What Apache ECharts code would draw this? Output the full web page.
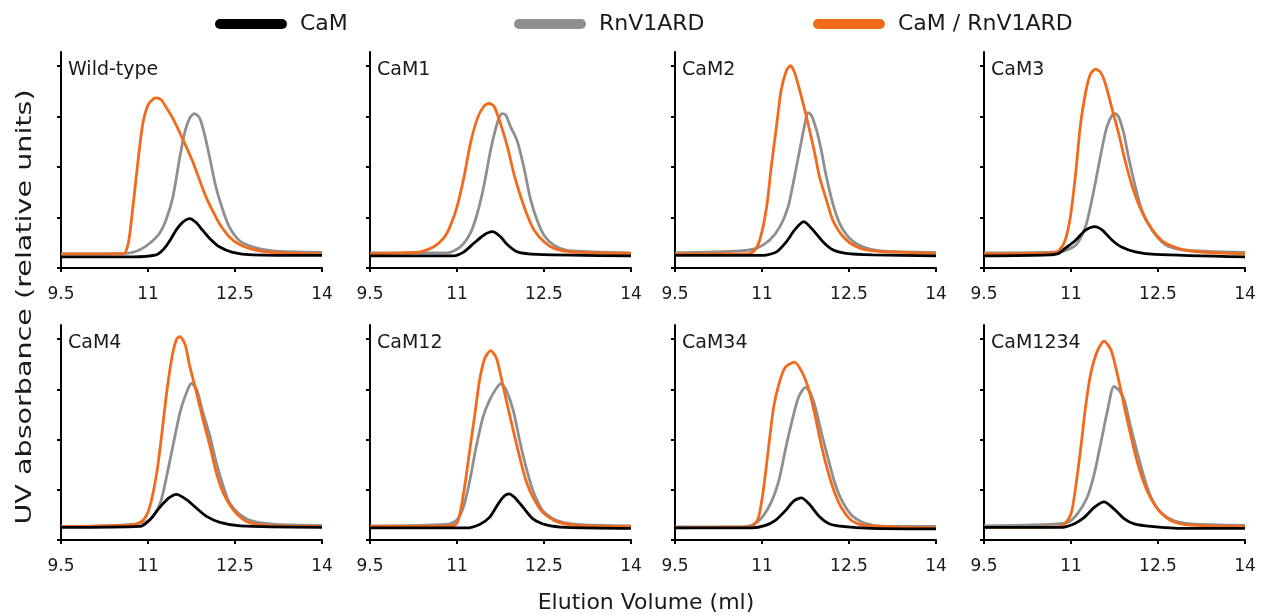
<!DOCTYPE html>
<html>
<head>
<meta charset="utf-8">
<script src="https://cdn.jsdelivr.net/npm/echarts@6/dist/echarts.min.js"></script>
<style>
html, body { margin: 0; padding: 0; background: #fff; }
#main { width: 1262px; height: 615px; }
</style>
</head>
<body>
<div id="main"></div>
<script>
// panel names and legend names
var panelNames = ['Wild-type', 'CaM1', 'CaM2', 'CaM3', 'CaM4', 'CaM12', 'CaM34', 'CaM1234'];
var seriesNames = ['CaM', 'RnV1ARD', 'CaM / RnV1ARD'];
var xTicks = [9.5, 11, 12.5, 14];
var yTicks = [0, 1, 2, 3, 4];

// [elution volume (ml), absorbance]
var wt_cam = [[9.5,.22],[10.74,.22],[11.14,.26],[11.26,.36],[11.37,.53],[11.49,.76],[11.60,.91],[11.72,.98],[11.83,.90],[11.94,.75],[12.06,.59],[12.23,.42],[12.46,.31],[12.80,.26],[14.0,.25]];
var wt_rnv = [[9.5,.28],[10.63,.29],[10.86,.36],[11.03,.49],[11.20,.69],[11.31,.95],[11.43,1.41],[11.54,2.14],[11.63,2.67],[11.72,2.97],[11.80,3.06],[11.89,2.97],[11.97,2.67],[12.06,2.21],[12.17,1.61],[12.29,1.15],[12.40,.82],[12.57,.55],[12.80,.42],[13.15,.34],[14.0,.31]];
var wt_mix = [[9.5,.28],[10.57,.28],[10.66,.49],[10.74,1.21],[10.83,2.14],[10.91,2.86],[11.0,3.23],[11.09,3.35],[11.14,3.37],[11.23,3.33],[11.31,3.19],[11.43,2.96],[11.54,2.70],[11.66,2.40],[11.77,2.11],[11.89,1.74],[12.0,1.41],[12.12,1.12],[12.23,.88],[12.40,.62],[12.57,.47],[12.80,.37],[13.15,.31],[14.0,.28]];

var cam1_cam = [[9.5,.24],[10.94,.24],[11.12,.32],[11.29,.49],[11.46,.65],[11.61,.72],[11.75,.62],[11.87,.46],[12.04,.32],[12.38,.27],[14.0,.24]];
var cam1_rnv = [[9.5,.30],[10.83,.30],[11.06,.42],[11.23,.69],[11.35,1.08],[11.46,1.61],[11.58,2.34],[11.66,2.73],[11.72,2.96],[11.78,3.06],[11.84,3.03],[11.92,2.81],[12.04,2.51],[12.15,2.01],[12.27,1.35],[12.39,.92],[12.50,.65],[12.67,.45],[12.90,.35],[14.0,.30]];
var cam1_mix = [[9.5,.28],[10.08,.30],[10.37,.32],[10.60,.42],[10.77,.59],[10.88,.82],[11.0,1.21],[11.12,1.80],[11.23,2.46],[11.35,2.96],[11.46,3.20],[11.55,3.26],[11.64,3.20],[11.75,2.86],[11.87,2.40],[11.98,1.87],[12.10,1.41],[12.21,1.05],[12.33,.75],[12.50,.52],[12.67,.39],[12.96,.32],[14.0,.29]];

var cam2_cam = [[9.5,.25],[11.02,.25],[11.25,.32],[11.42,.52],[11.56,.75],[11.72,.92],[11.88,.75],[12.05,.52],[12.22,.36],[12.45,.29],[12.91,.26],[14.0,.24]];
var cam2_rnv = [[9.5,.30],[10.62,.34],[10.90,.39],[11.13,.55],[11.31,.82],[11.45,1.21],[11.56,1.81],[11.65,2.34],[11.74,2.86],[11.79,3.08],[11.85,3.03],[11.94,2.73],[12.02,2.34],[12.11,1.81],[12.22,1.28],[12.34,.88],[12.51,.59],[12.74,.42],[13.03,.34],[14.0,.31]];
var cam2_mix = [[9.5,.28],[10.73,.28],[10.85,.32],[10.96,.55],[11.08,1.21],[11.16,2.01],[11.25,2.81],[11.33,3.52],[11.42,3.91],[11.49,4.01],[11.56,3.88],[11.65,3.52],[11.74,3.12],[11.82,2.73],[11.91,2.27],[11.99,1.81],[12.11,1.35],[12.22,.95],[12.40,.62],[12.63,.42],[12.91,.34],[14.0,.29]];

var cam3_cam = [[9.5,.24],[10.62,.26],[10.79,.29],[10.90,.39],[11.08,.55],[11.25,.75],[11.41,.82],[11.54,.75],[11.71,.55],[11.88,.41],[12.11,.32],[12.45,.27],[14.0,.22]];
var cam3_rnv = [[9.5,.30],[10.79,.32],[11.08,.45],[11.25,.82],[11.36,1.35],[11.45,1.87],[11.54,2.40],[11.62,2.80],[11.71,3.03],[11.76,3.06],[11.82,3.00],[11.91,2.67],[11.99,2.21],[12.11,1.61],[12.22,1.15],[12.40,.75],[12.63,.46],[12.91,.36],[14.0,.31]];
var cam3_mix = [[9.5,.28],[10.68,.30],[10.79,.34],[10.90,.55],[10.99,1.02],[11.08,1.87],[11.16,2.81],[11.25,3.47],[11.33,3.83],[11.42,3.94],[11.51,3.88],[11.59,3.66],[11.70,3.19],[11.82,2.67],[11.93,2.14],[12.04,1.68],[12.16,1.28],[12.33,.88],[12.56,.55],[12.85,.39],[13.20,.32],[14.0,.28]];

var cam4_cam = [[9.5,.25],[10.86,.27],[11.03,.40],[11.21,.66],[11.35,.83],[11.49,.91],[11.67,.80],[11.84,.63],[12.01,.47],[12.24,.35],[12.59,.28],[14.0,.25]];
var cam4_rnv = [[9.5,.27],[10.63,.30],[11.03,.40],[11.21,.73],[11.32,1.26],[11.44,1.93],[11.55,2.53],[11.64,2.86],[11.75,3.12],[11.84,2.99],[11.95,2.53],[12.07,2.06],[12.18,1.53],[12.30,1.06],[12.41,.73],[12.59,.50],[12.82,.37],[13.22,.31],[14.0,.29]];
var cam4_mix = [[9.5,.27],[10.75,.30],[10.92,.40],[11.03,.66],[11.15,1.33],[11.24,2.13],[11.32,2.92],[11.41,3.62],[11.49,3.99],[11.55,4.05],[11.64,3.89],[11.72,3.46],[11.84,2.92],[11.95,2.39],[12.07,1.86],[12.18,1.33],[12.30,.93],[12.47,.60],[12.70,.37],[13.05,.29],[14.0,.27]];

var cam12_cam = [[9.5,.24],[11.16,.24],[11.39,.31],[11.56,.45],[11.71,.72],[11.82,.88],[11.90,.92],[11.99,.85],[12.14,.65],[12.31,.42],[12.54,.30],[12.88,.25],[14.0,.23]];
var cam12_rnv = [[9.5,.28],[10.82,.31],[10.99,.39],[11.11,.65],[11.22,1.18],[11.33,1.85],[11.45,2.45],[11.56,2.78],[11.68,3.02],[11.76,3.11],[11.85,2.98],[11.97,2.58],[12.08,1.98],[12.19,1.45],[12.31,.98],[12.48,.58],[12.71,.39],[13.06,.31],[14.0,.28]];
var cam12_mix = [[9.5,.27],[10.88,.28],[10.99,.32],[11.05,.52],[11.13,1.05],[11.22,1.79],[11.31,2.52],[11.39,3.19],[11.48,3.62],[11.58,3.77],[11.68,3.62],[11.76,3.24],[11.85,2.78],[11.97,2.18],[12.08,1.65],[12.19,1.18],[12.31,.85],[12.48,.55],[12.71,.37],[13.06,.29],[14.0,.27]];

var cam34_cam = [[9.5,.24],[10.83,.24],[11.06,.29],[11.23,.39],[11.40,.58],[11.55,.78],[11.68,.84],[11.81,.72],[11.98,.48],[12.15,.33],[12.38,.27],[12.89,.23],[14.0,.22]];
var cam34_rnv = [[9.5,.26],[10.60,.26],[10.83,.30],[11.0,.45],[11.17,.78],[11.29,1.18],[11.40,1.78],[11.52,2.38],[11.63,2.84],[11.75,3.04],[11.83,2.94],[11.92,2.64],[12.03,2.11],[12.15,1.58],[12.26,1.12],[12.38,.78],[12.55,.49],[12.78,.33],[13.12,.27],[14.0,.27]];
var cam34_mix = [[9.5,.24],[10.72,.26],[10.83,.27],[10.94,.45],[11.03,1.05],[11.12,1.91],[11.20,2.64],[11.29,3.10],[11.40,3.44],[11.56,3.54],[11.69,3.34],[11.81,2.98],[11.92,2.45],[12.03,1.85],[12.15,1.31],[12.26,.92],[12.38,.62],[12.55,.38],[12.78,.29],[14.0,.24]];

var cam1234_cam = [[9.5,.25],[10.82,.25],[11.05,.32],[11.23,.45],[11.40,.65],[11.57,.76],[11.74,.62],[11.92,.42],[12.09,.32],[12.38,.27],[12.95,.23],[14.0,.23]];
var cam1234_rnv = [[9.5,.28],[10.65,.31],[10.94,.35],[11.11,.52],[11.28,.85],[11.40,1.31],[11.51,1.91],[11.63,2.58],[11.74,3.06],[11.83,2.98],[11.92,2.78],[12.03,2.25],[12.15,1.71],[12.26,1.25],[12.38,.85],[12.55,.55],[12.78,.38],[13.07,.32],[14.0,.29]];
var cam1234_mix = [[9.5,.25],[10.77,.26],[10.88,.31],[11.0,.52],[11.08,1.05],[11.17,1.85],[11.25,2.64],[11.34,3.31],[11.46,3.78],[11.57,3.96],[11.69,3.78],[11.77,3.44],[11.86,2.98],[11.97,2.39],[12.09,1.79],[12.20,1.33],[12.32,.96],[12.49,.62],[12.72,.39],[13.01,.30],[14.0,.27]];

var camTraces = [wt_cam, cam1_cam, cam2_cam, cam3_cam, cam4_cam, cam12_cam, cam34_cam, cam1234_cam];
var rnvTraces = [wt_rnv, cam1_rnv, cam2_rnv, cam3_rnv, cam4_rnv, cam12_rnv, cam34_rnv, cam1234_rnv];
var mixTraces = [wt_mix, cam1_mix, cam2_mix, cam3_mix, cam4_mix, cam12_mix, cam34_mix, cam1234_mix];

var colors = ['#000000', '#8f8f8f', '#f26a1b'];
var FONT = '"DejaVu Sans", sans-serif';
var gridLeft = [61, 370, 675, 984];
var gridTop = [52, 325];

var myChart = echarts.init(document.getElementById('main'));

var grids = [], xAxes = [], yAxes = [], titles = [], series = [];
panelNames.forEach(function (name, i) {
    var col = i % 4, row = Math.floor(i / 4);
    grids.push({ left: gridLeft[col], top: gridTop[row], width: 261, height: row ? 215 : 216 });
    xAxes.push({
        gridIndex: i, type: 'value', min: 9.5, max: 14, interval: 1.5,
        axisLine: { lineStyle: { color: '#000', width: 2 } },
        axisTick: { show: true, customValues: xTicks, length: 4, lineStyle: { color: '#000', width: 2 } },
        axisLabel: { customValues: xTicks, showMinLabel: true, showMaxLabel: true, margin: 18,
            color: '#1a1a1a', fontFamily: FONT, fontSize: 17 },
        splitLine: { show: false }
    });
    yAxes.push({
        gridIndex: i, type: 'value', min: 0, max: 4.28,
        axisLine: { show: true, lineStyle: { color: '#000', width: 2 } },
        axisTick: { show: true, customValues: yTicks, length: 4, lineStyle: { color: '#000', width: 2 } },
        axisLabel: { show: false },
        splitLine: { show: false }
    });
    titles.push({
        text: name, left: gridLeft[col] + 7, top: gridTop[row] + 9, padding: 0,
        textStyle: { fontFamily: FONT, fontSize: 19, fontWeight: 'normal', color: '#1a1a1a' }
    });
    [camTraces[i], rnvTraces[i], mixTraces[i]].forEach(function (d, k) {
        series.push({
            name: seriesNames[k], type: 'line', xAxisIndex: i, yAxisIndex: i,
            data: d, showSymbol: false, symbol: 'none', smooth: 0.25, z: 2 + (k === 0 ? 2 : k === 2 ? 1 : 0),
            lineStyle: { color: colors[k], width: 2.8 },
            itemStyle: { color: colors[k] }
        });
    });
});

var pill = 'path://M5 0H67A5 5 0 0 1 67 10H5A5 5 0 0 1 5 0Z';
var legendLeft = [215, 514, 813];
var legends = seriesNames.map(function (n, k) {
    return {
        data: [n], left: legendLeft[k], top: 13, padding: 0, selectedMode: false,
        icon: pill, itemWidth: 72, itemHeight: 10,
        itemStyle: { borderWidth: 0 },
        textStyle: { fontFamily: FONT, fontSize: 22, color: '#1a1a1a', padding: [0, 0, 0, 8] }
    };
});

myChart.setOption({
    animation: false,
    backgroundColor: '#fff',
    title: titles,
    legend: legends,
    grid: grids,
    xAxis: xAxes,
    yAxis: yAxes,
    series: series,
    graphic: [
        { type: 'text', x: 25, y: 307, rotation: Math.PI / 2, scaleX: 1.3,
          style: { text: 'UV absorbance (relative units)', font: '22px ' + FONT, fill: '#1a1a1a', align: 'center', verticalAlign: 'middle' } },
        { type: 'text', x: 646, y: 603,
          style: { text: 'Elution Volume (ml)', font: '22px ' + FONT, fill: '#1a1a1a', align: 'center', verticalAlign: 'middle' } }
    ]
});
</script>
</body>
</html>
